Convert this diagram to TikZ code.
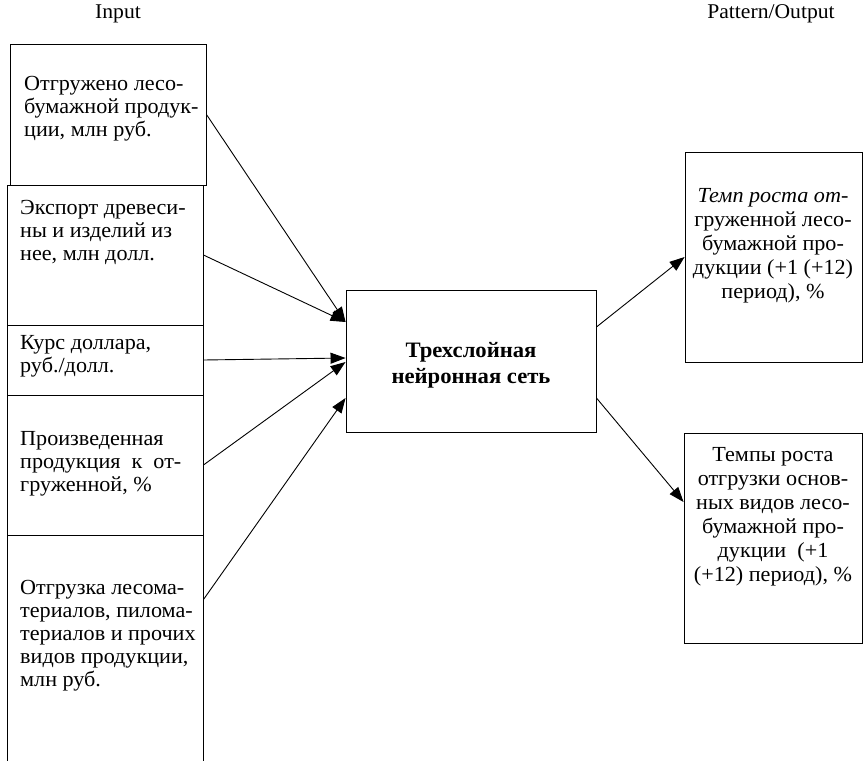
\documentclass[tikz,border=0pt]{standalone}
\usepackage{fontspec}
\setmainfont[FakeStretch=1.03]{Liberation Serif}
\usetikzlibrary{arrows.meta,calc}
\begin{document}
\begin{tikzpicture}[x=1pt,y=-1pt,
  box/.style={draw, line width=0.9pt, rectangle, inner sep=0},
  txt/.style={inner sep=0, font=\fontsize{21.5}{23}\selectfont, align=left, anchor=north west},
  ctxt/.style={inner sep=0, font=\fontsize{21.5}{24}\selectfont, align=center, anchor=north},
  lbl/.style={inner sep=0, font=\fontsize{21}{24}\selectfont},
  arr/.style={-{Triangle[length=15pt,width=11pt]}, line width=0.9pt}]
\useasboundingbox (0,0) rectangle (864,760);
% labels
\node[lbl] (linput) at (118,14) {Input};
\node[lbl] (loutput) at (771,14) {Pattern/Output};
% input boxes
\node[box, minimum width=196pt, minimum height=141pt] (in1) at (108,114.5) {};
\node[box, minimum width=196pt, minimum height=140pt] (in2) at (105,255) {};
\node[box, minimum width=196pt, minimum height=70pt] (in3) at (105,360) {};
\node[box, minimum width=196pt, minimum height=140pt] (in4) at (105,465) {};
\node[box, minimum width=196pt, minimum height=245pt] (in5) at (105,657.5) {};
% texts
\node[txt] (t1) at (24,76) {Отгружено лесо-\\бумажной продук-\\ции, млн руб.};
\node[txt] (t2) at (20,200) {Экспорт древеси-\\ны и изделий из\\нее, млн долл.};
\node[txt] (t3) at (20,335) {Курс доллара,\\руб./долл.};
\node[txt] (t4) at (20,431) {Произведенная\\продукция~~к~~от-\\груженной, \%};
\node[txt] (t5) at (20,580) {Отгрузка лесома-\\териалов, пилома-\\териалов и прочих\\видов продукции,\\млн руб.};
% central box
\node[box, minimum width=250pt, minimum height=142pt] (nn) at (471,361) {};
\node[inner sep=0, font=\fontsize{22}{26}\selectfont\bfseries, align=center] (nnt) at (471,365) {Трехслойная\\нейронная сеть};
% output boxes
\node[box, minimum width=177pt, minimum height=210pt] (out1) at (773.5,257) {};
\node[box, minimum width=178pt, minimum height=210pt] (out2) at (773,538) {};
\node[ctxt] (r1) at (773,188) {\textit{Темп роста от-}\\груженной лесо-\\бумажной про-\\дукции (+1 (+12)\\период), \%};
\node[ctxt] (r2) at (773,447) {Темпы роста\\отгрузки основ-\\ных видов лесо-\\бумажной про-\\дукции~~(+1\\(+12) период), \%};
% arrows
\draw[arr] (in1.east) -- ($(nn.west)+(0,-39)$);
\draw[arr] (in2.east) -- ($(nn.west)+(0,-39)$);
\draw[arr] (in3.east) -- ($(nn.west)+(0,-3)$);
\draw[arr] (in4.east) -- ($(nn.west)+(0,1)$);
\draw[arr] ($(in5.north east)+(0,65)$) -- ($(nn.west)+(0,37)$);
\draw[arr] ($(nn.east)+(0,-34)$) -- (out1.west);
\draw[arr] ($(nn.east)+(0,37)$) -- ($(out2.west)+(0,-36)$);
\end{tikzpicture}
\end{document}
